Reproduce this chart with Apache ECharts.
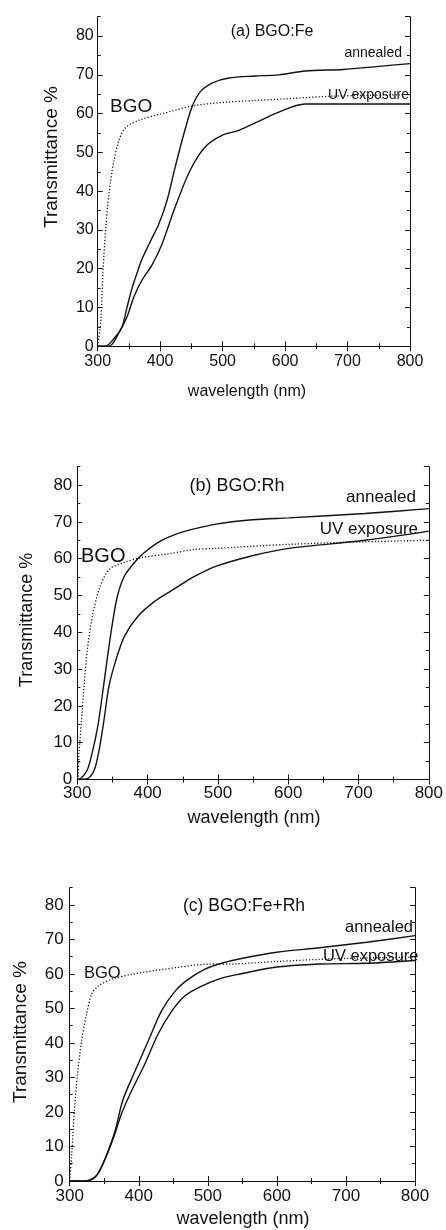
<!DOCTYPE html>
<html>
<head>
<meta charset="utf-8">
<script src="https://cdn.jsdelivr.net/npm/echarts@6/dist/echarts.min.js"></script>
<style>
html,body{margin:0;padding:0;background:#fff;}
#chart{width:446px;height:1230px;}
</style>
</head>
<body>
<div id="chart"></div>
<script>
// ---- data (wavelength nm, transmittance %) ----
const xTicks = [300, 400, 500, 600, 700, 800];
const yTicks = [0, 10, 20, 30, 40, 50, 60, 70, 80];

const aAnnealed = [[300,0],[312,0],[328,2.4],[339,5.0],[347,10.1],[355,15.0],[363,18.9],[371,22.5],[385,27.3],[398,31.6],[411,37.6],[424,46.2],[438,54.8],[451,61.7],[464,65.6],[483,67.9],[510,69.2],[552,69.7],[590,70.0],[632,71.0],[693,71.4],[750,72.2],[800,72.9]];
const aUV = [[300,0],[315,0],[323,0.5],[336,4.1],[347,7.6],[358,12.8],[371,17.1],[387,21.0],[402,26.0],[424,35.9],[448,45.4],[472,51.4],[499,54.4],[526,55.7],[552,57.6],[587,60.2],[632,62.5],[700,62.5],[800,62.5]];
const aBGO = [[300,0],[305,6.6],[308.5,19.5],[313,30.7],[318,39.3],[326,47.9],[334,53.1],[345,56.5],[366,58.3],[403,60.0],[456,62.1],[510,63.0],[552,63.4],[600,63.8],[677,64.5],[800,64.9]];

const bAnnealed = [[300,0],[305,0.3],[314,2.5],[321,7.1],[329,14.3],[336,23.5],[343,33.4],[350,42.5],[357,49.8],[367,55.3],[381,58.9],[395,61.6],[414,64.3],[429,65.8],[450,67.3],[497,69.4],[549,70.6],[601,71.1],[709,72.3],[800,73.6]];
const bUV = [[300,0],[314,0.2],[324,2.5],[331,8.0],[338,16.2],[345,25.3],[355,32.5],[367,38.9],[386,44.3],[410,48.4],[433,51.2],[452,53.5],[466,55.1],[497,57.9],[549,60.8],[601,62.8],[709,65.0],[800,67.5]];
const bBGO = [[300,0],[301,0.3],[302.4,7.1],[305.7,15.3],[309.6,25.3],[314.3,35.3],[321.4,44.3],[331,51.6],[345,57.0],[367,59.0],[391,60.3],[429,61.3],[466,62.5],[497,62.8],[601,63.9],[709,64.6],[800,65.0]];

const cAnnealed = [[300,0],[322,0],[337,1.2],[346,4.1],[356,8.9],[366,14.7],[377,23.5],[395,32.0],[414,40.7],[433,49.3],[453,55.1],[472,58.5],[496,61.4],[520,63.1],[547,64.4],[600,66.3],[662,67.6],[730,69.2],[800,71.1]];
const cUV = [[300,0],[322,0],[337,1.2],[346,4.0],[356,8.6],[366,14.0],[375,19.5],[390,26.3],[409,34.0],[428,42.6],[448,49.3],[467,53.7],[491,56.5],[520,58.8],[547,60.0],[600,62.0],[662,62.9],[730,63.1],[800,63.9]];
const cBGO = [[300,0],[302.7,7.0],[306.5,19.5],[311.4,31.1],[317.3,40.7],[324.5,48.4],[331.8,54.2],[341.4,56.5],[361,58.5],[390,59.9],[438,61.4],[496,62.8],[537,62.9],[600,63.6],[682,64.4],[800,64.9]];

const panelTitles = ['(a) BGO:Fe', '(b) BGO:Rh', '(c) BGO:Fe+Rh'];
const xName = 'wavelength (nm)';
const yName = 'Transmittance %';
const lblAnnealed = 'annealed';
const lblUV = 'UV exposure';
const lblBGO = 'BGO';

// ---- layout ----
const FONT = 'Liberation Sans, Arial, Helvetica, sans-serif';
const INK = '#111';
const panels = [
  {grid:{left:97.7, top:16.7, width:312.3, height:329.6}, fs:16, xm:7, ym:4, series:[aAnnealed,aUV,aBGO],
   title:{x:272, y:32, fs:16}, xl:{x:247, y:391.5, fs:16}, yl:{x:52, y:157, fs:19},
   ann:{x:402, y:53, fs:14, align:'right'}, uv:{x:409, y:95, fs:14, align:'right'}, bgo:{x:110, y:107, fs:19, align:'left'}},
  {grid:{left:77.3, top:466.7, width:353.7, height:312.8}, fs:17, xm:5, ym:5, series:[bAnnealed,bUV,bBGO],
   title:{x:237, y:486, fs:18}, xl:{x:254, y:818.3, fs:18}, yl:{x:27, y:620, fs:18},
   ann:{x:416, y:497.5, fs:17, align:'right'}, uv:{x:418, y:529, fs:17, align:'right'}, bgo:{x:81, y:556, fs:20, align:'left'}},
  {grid:{left:69.7, top:887.7, width:345.3, height:293.3}, fs:17, xm:7, ym:6, series:[cAnnealed,cUV,cBGO],
   title:{x:244, y:906, fs:17.5}, xl:{x:243, y:1219, fs:18}, yl:{x:21, y:1032, fs:19},
   ann:{x:413, y:927, fs:16.5, align:'right'}, uv:{x:323, y:956, fs:16.5, align:'left'}, bgo:{x:84, y:973, fs:16.5, align:'left'}}
];

const grids = [], xAxes = [], yAxes = [], series = [], graphics = [];
const axisLine = {show:true, lineStyle:{color:INK, width:1}};
panels.forEach((p, i) => {
  grids.push(Object.assign({containLabel:false}, p.grid));
  const xBase = {type:'value', gridIndex:i, min:xTicks[0], max:xTicks[xTicks.length-1], interval:xTicks[1]-xTicks[0],
    axisLine:axisLine, splitLine:{show:false},
    axisTick:{show:true, inside:true, length:5, lineStyle:{color:INK}},
    minorTick:{show:true, splitNumber:2, length:3, lineStyle:{color:INK}}};
  xAxes.push(Object.assign({}, xBase, {position:'bottom',
    axisLabel:{show:true, margin:p.xm, color:INK, fontSize:p.fs, fontFamily:FONT}}));
  xAxes.push(Object.assign({}, xBase, {position:'top', axisLabel:{show:false}}));
  const yMax = 85;
  const yMaj = {type:'value', gridIndex:i, min:yTicks[0], max:yMax, interval:yTicks[1]-yTicks[0],
    axisLine:axisLine, splitLine:{show:false},
    axisTick:{show:true, inside:true, length:5, lineStyle:{color:INK}}};
  const yMin = {type:'value', gridIndex:i, min:yTicks[0], max:yMax, interval:(yTicks[1]-yTicks[0])/2,
    axisLine:{show:false}, splitLine:{show:false}, axisLabel:{show:false},
    axisTick:{show:true, inside:true, length:3, lineStyle:{color:INK}}};
  yAxes.push(Object.assign({}, yMaj, {position:'left',
    axisLabel:{show:true, margin:p.ym, color:INK, fontSize:p.fs, fontFamily:FONT, showMaxLabel:false,
      formatter:v => (v % 10 === 0 && v <= 80) ? String(v) : ''}}));
  yAxes.push(Object.assign({}, yMin, {position:'left'}));
  yAxes.push(Object.assign({}, yMaj, {position:'right', axisLabel:{show:false}}));
  yAxes.push(Object.assign({}, yMin, {position:'right'}));
  const xi = i*2, yi = i*4;
  p.series.forEach((d, k) => {
    series.push({type:'line', xAxisIndex:xi, yAxisIndex:yi, data:d, showSymbol:false, symbol:'none',
      smooth:0.3, silent:true, animation:false, clip:true,
      lineStyle: k === 2 ? {color:INK, width:1.3, type:[1.2,2]} : {color:INK, width:1.4}});
  });
  const txt = (t, o, extra) => Object.assign({type:'text', x:o.x, y:o.y, silent:true,
    style:{text:t, fill:INK, font:o.fs+'px '+FONT, textAlign:o.align||'center', textVerticalAlign:'middle'}}, extra||{});
  graphics.push(txt(panelTitles[i], p.title));
  graphics.push(txt(xName, p.xl));
  graphics.push(txt(yName, p.yl, {rotation:Math.PI/2}));
  graphics.push(txt(lblAnnealed, p.ann));
  graphics.push(txt(lblUV, p.uv));
  graphics.push(txt(lblBGO, p.bgo));
});

const chart = echarts.init(document.getElementById('chart'), null, {renderer:'canvas'});
chart.setOption({
  animation:false,
  backgroundColor:'#fff',
  grid:grids, xAxis:xAxes, yAxis:yAxes, series:series, graphic:graphics
});
</script>
</body>
</html>
